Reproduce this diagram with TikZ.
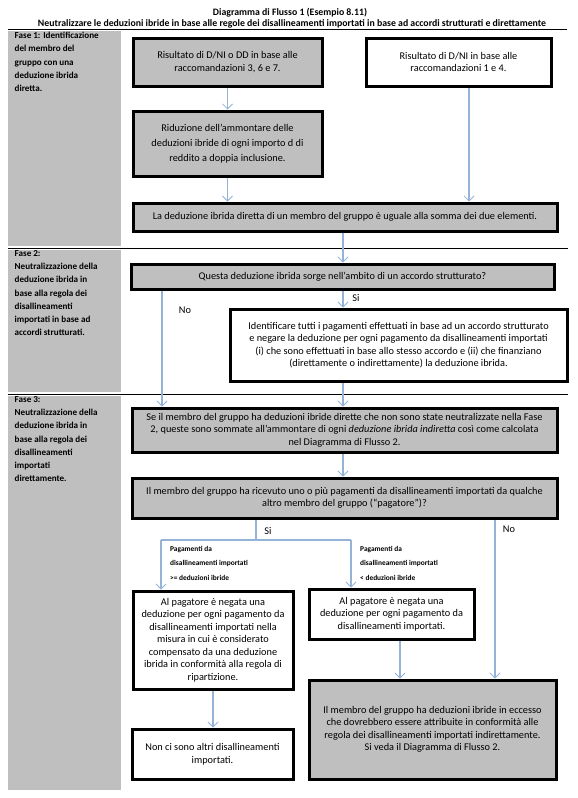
\documentclass[tikz,border=0pt]{standalone}
\usepackage{fontspec}
\setmainfont{Carlito}
\usetikzlibrary{arrows.meta,calc}
\definecolor{boxgray}{RGB}{191,191,191}
\definecolor{arrowblue}{RGB}{149,179,215}
\begin{document}
\begin{tikzpicture}[x=1pt,y=-1pt,
  box/.style={draw=black,line width=3pt,align=center,inner sep=0pt,font=\fontsize{10.3}{12.5}\selectfont},
  graybox/.style={box,fill=boxgray},
  whitebox/.style={box,fill=white},
  sidetext/.style={anchor=north west,inner sep=0pt,align=left,font=\fontsize{9.1}{13.3}\selectfont\bfseries},
  conn/.style={draw=arrowblue,line width=1.2pt},
  arr/.style={conn,-{Straight Barb[length=5pt,width=10pt,line width=0.8pt]}},
  lab/.style={inner sep=0pt,font=\fontsize{10.3}{12}\selectfont},
  smalllab/.style={anchor=north west,inner sep=0pt,align=left,font=\fontsize{7.4}{14.5}\selectfont\bfseries},
  sepline/.style={draw=black,line width=1pt},
  titletext/.style={inner sep=0pt,font=\fontsize{9.8}{12}\selectfont\bfseries}
]
\useasboundingbox[fill=white] (0,0) rectangle (578,798);

% title
\node[titletext] (title) at (290,12.5) {Diagramma di Flusso 1 (Esempio 8.11)};
\node[titletext] (subtitle) at (292,23.5) {Neutralizzare le deduzioni ibride in base alle regole dei disallineamenti importati in base ad accordi strutturati e direttamente};
\draw[sepline] (8,29.5) -- (567,29.5);

% sidebar
\fill[boxgray] (8,31) rectangle (121,246);
\fill[boxgray] (8,250) rectangle (121,392);
\fill[boxgray] (8,396) rectangle (121,790);
\draw[sepline] (8,248) -- (568,248);
\draw[sepline] (8,394) -- (568,394);

\node[sidetext] (f1) at (14.5,32) {Fase 1: Identificazione\\del membro del\\gruppo con una\\deduzione ibrida\\diretta.};
\node[sidetext] (f2) at (14.5,250) {Fase 2:\\Neutralizzazione della\\deduzione ibrida in\\base alla regola dei\\disallineamenti\\importati in base ad\\accordi strutturati.};
\node[sidetext] (f3) at (14.5,396) {Fase 3:\\Neutralizzazione della\\deduzione ibrida in\\base alla regola dei\\disallineamenti\\importati\\direttamente.};

% boxes
\node[graybox,minimum width=189pt,minimum height=48pt] (b1) at (227.5,62) {Risultato di D/NI o DD in base alle\\raccomandazioni 3, 6 e 7.};
\node[whitebox,minimum width=185pt,minimum height=48pt] (b2) at (458.5,62) {Risultato di D/NI in base alle\\raccomandazioni 1 e 4.};
\node[graybox,minimum width=189pt,minimum height=65pt,font=\fontsize{10.3}{15}\selectfont] (b3) at (227.5,143.5) {Riduzione dell’ammontare delle\\deduzioni ibride di ogni importo d di\\reddito a doppia inclusione.};
\node[graybox,minimum width=424pt,minimum height=28pt] (b4) at (345,217) {La deduzione ibrida diretta di un membro del gruppo è uguale alla somma dei due elementi.};
\node[graybox,minimum width=423pt,minimum height=25pt] (q) at (342.5,276.5) {Questa deduzione ibrida sorge nell’ambito di un accordo strutturato?};
\node[whitebox,minimum width=337pt,minimum height=72pt] (b5) at (398.5,345) {Identificare tutti i pagamenti effettuati in base ad un accordo strutturato\\e negare la deduzione per ogni pagamento da disallineamenti importati\\(i) che sono effettuati in base allo stesso accordo e (ii) che finanziano\\(direttamente o indirettamente) la deduzione ibrida.};
\node[graybox,minimum width=425pt,minimum height=44pt] (b6) at (344.5,430) {Se il membro del gruppo ha deduzioni ibride dirette che non sono state neutralizzate nella Fase\\2, queste sono sommate all’ammontare di ogni \textit{deduzione ibrida indiretta} così come calcolata\\nel Diagramma di Flusso 2.};
\node[graybox,minimum width=425pt,minimum height=40pt] (b7) at (344.5,498) {Il membro del gruppo ha ricevuto uno o più pagamenti da disallineamenti importati da qualche\\altro membro del gruppo (“pagatore”)?};
\node[whitebox,minimum width=160pt,minimum height=98pt] (b8) at (213,640) {Al pagatore è negata una\\deduzione per ogni pagamento da\\disallineamenti importati nella\\misura in cui è considerato\\compensato da una deduzione\\ibrida in conformità alla regola di\\ripartizione.};
\node[whitebox,minimum width=165pt,minimum height=50pt] (b9) at (391.5,614) {Al pagatore è negata una\\deduzione per ogni pagamento da\\disallineamenti importati.};
\node[graybox,minimum width=247pt,minimum height=99pt] (b10) at (432.5,729.5) {Il membro del gruppo ha deduzioni ibride in eccesso\\che dovrebbero essere attribuite in conformità alle\\regola dei disallineamenti importati indirettamente.\\Si veda il Diagramma di Flusso 2.};
\node[whitebox,minimum width=161pt,minimum height=50pt] (b11) at (212.5,754) {Non ci sono altri disallineamenti\\importati.};

% helper coordinates
\coordinate (b2o) at ($(b2.south)+(10.5,0)$);
\coordinate (xmid) at (343,0);
\coordinate (xno) at (162,0);
\coordinate (xsi) at (256,0);
\coordinate (jl) at (161,540);
\coordinate (jr) at (351,540);
\coordinate (xno2) at (495,0);
\coordinate (x8) at (213,0);
\coordinate (x9) at (400,0);

% connectors
\draw[arr] (b1.south) -- (b3.north);
\draw[arr] (b3.south) -- (b3.south |- b4.north);
\draw[arr] (b2o) -- (b2o |- b4.north);
\draw[arr] (b4.south -| xmid) -- (q.north -| xmid);
\draw[arr] (q.south -| xmid) -- (b5.north -| xmid);
\draw[arr] (q.south -| xno) -- (b6.north -| xno);
\draw[arr] (b5.south -| xmid) -- (b6.north -| xmid);
\draw[arr] (b6.south -| xmid) -- (b7.north -| xmid);
\draw[conn] (b7.south -| xsi) -- (xsi |- jl);
\draw[conn] (jl) -- (jr);
\draw[arr] (jl) -- (jl |- b8.north);
\draw[arr] (jr) -- (jr |- b9.north);
\draw[arr] (b7.south -| xno2) -- (b10.north -| xno2);
\draw[arr] (b8.south -| x8) -- (b11.north -| x8);
\draw[arr] (b9.south -| x9) -- (b10.north -| x9);

% labels
\node[lab] (lno1) at (185,310) {No};
\node[lab] (lsi1) at (356,298) {Si};
\node[lab] (lsi2) at (268,531) {Si};
\node[lab] (lno2) at (509,529) {No};
\node[smalllab] (lp1) at (170,546) {Pagamenti da\\disallineamenti importati\\>= deduzioni ibride};
\node[smalllab] (lp2) at (360,546) {Pagamenti da\\disallineamenti importati\\< deduzioni ibride};
\end{tikzpicture}
\end{document}
